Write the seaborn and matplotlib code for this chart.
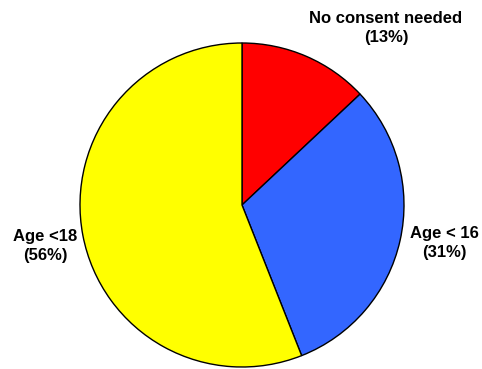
import matplotlib
matplotlib.use("Agg")
import matplotlib.pyplot as plt
import seaborn as sns

sns.set_style("white")
plt.rcParams['font.family'] = ['Liberation Sans', 'DejaVu Sans']
plt.rcParams['text.color'] = 'black'

categories = ["No consent needed", "Age < 16", "Age <18"]
values = [13, 31, 56]
colors = ["#FF0000", "#3366FF", "#FFFF00"]

W, H = 482, 369
fig = plt.figure(figsize=(W / 100, H / 100), dpi=100)
ax = fig.add_axes([0, 0, 1, 1])

cx, cy, r = 242, H - 205, 162
ax.pie(values, colors=colors, startangle=90, counterclock=False,
       center=(cx, cy), radius=r, frame=True,
       wedgeprops=dict(edgecolor="black", linewidth=1.0))
ax.set_xlim(0, W)
ax.set_ylim(0, H)
ax.axis("off")

label_pos = [(386, 28), (444, 243), (45, 246)]
for cat, v, (x, y) in zip(categories, values, label_pos):
    ax.text(x, H - y, f"{cat}\n({v}%)", ha="center", va="center",
            fontsize=12, fontweight="bold", linespacing=1.4, color="black")

fig.savefig("out.png", dpi=100)
